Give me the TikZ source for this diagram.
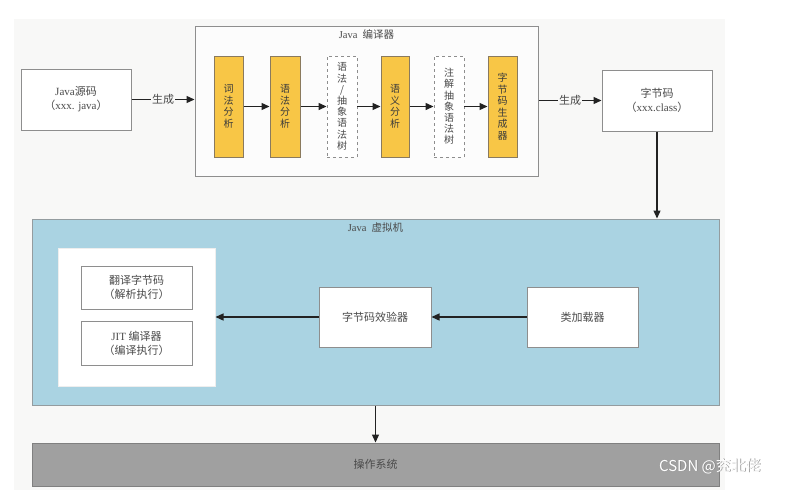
\documentclass[tikz,border=0pt]{standalone}
\usepackage{fontspec}
\setmainfont{Noto Sans CJK SC}
\newfontfamily\latf{Liberation Serif}
\usetikzlibrary{arrows.meta}
\definecolor{bgc}{HTML}{F8F8F7}
\definecolor{bordc}{HTML}{8E8E8E}
\definecolor{txtc}{HTML}{4A4A4A}
\definecolor{yel}{HTML}{F8C646}
\definecolor{yelb}{HTML}{8A7A5E}
\definecolor{jvmc}{HTML}{AAD3E2}
\definecolor{osc}{HTML}{A0A0A0}
\definecolor{arrc}{HTML}{222222}
\tikzset{
  box/.style={draw=bordc, line width=1pt, fill=white, inner sep=0pt, text=txtc, align=center, font=\fontsize{11}{14}\selectfont},
  ybox/.style={draw=yelb, line width=1pt, fill=yel, inner sep=0pt, minimum height=101pt, text=txtc!80!black, align=center, font=\fontsize{10}{11.5}\selectfont},
  dbox/.style={draw=bordc, dashed, line width=0.9pt, fill=white, inner sep=0pt, minimum height=101pt, text=txtc, align=center, font=\fontsize{10}{11.2}\selectfont},
  arr/.style={draw=arrc, line width=1.3pt, -{Triangle[length=8pt,width=7pt]}},
  lbl/.style={fill=bgc, inner sep=1pt, text=txtc, font=\fontsize{11}{12}\selectfont},
  ttl/.style={text=txtc, inner sep=0pt, font=\fontsize{10.5}{12}\selectfont}
}
\begin{document}
\begin{tikzpicture}[x=1pt, y=-1pt]
\useasboundingbox (0,0) rectangle (792,490);
\fill[white] (0,0) rectangle (792,490);
\fill[bgc] (14,19) rectangle (725,490);

% compiler
\node[box, fill=white!60!bgc, minimum width=343pt, minimum height=150pt] (comp) at (366.5,101) {};
\node[ttl] (compt) at (366.5,34) {{\latf Java}\enspace 编译器};
\node[box, minimum width=110pt, minimum height=61pt] (src) at (76,99.5) {{\latf Java}源码\\（{\latf xxx. java}）};
\node[ybox, minimum width=29pt] (y1) at (228.5,106.5) {词\\法\\分\\析};
\node[ybox, minimum width=30pt] (y2) at (285,106.5) {语\\法\\分\\析};
\node[dbox, minimum width=30pt] (d1) at (342,106.5) {语\\法\\/\\抽\\象\\语\\法\\树};
\node[ybox, minimum width=28pt] (y3) at (395,106.5) {语\\义\\分\\析};
\node[dbox, minimum width=30pt] (d2) at (449,106.5) {注\\解\\抽\\象\\语\\法\\树};
\node[ybox, minimum width=29pt] (y4) at (502.5,106.5) {字\\节\\码\\生\\成\\器};
\node[box, minimum width=110pt, minimum height=61pt] (bc) at (657,100.5) {字节码\\（{\latf xxx.class}）};

% JVM
\node[box, fill=jvmc, draw=bordc!80!jvmc, minimum width=687pt, minimum height=186pt] (jvm) at (375.5,312) {};
\node[ttl] (jvmt) at (375.5,228) {{\latf Java}\enspace 虚拟机};
\node[box, draw=white!85!bordc, minimum width=157pt, minimum height=138pt] (exec) at (136.5,317) {};
\node[box, minimum width=111pt, minimum height=43pt] (interp) at (136.5,287.5) {翻译字节码\\（解析执行）};
\node[box, minimum width=111pt, minimum height=44pt] (jit) at (136.5,343) {{\latf JIT} 编译器\\（编译执行）};
\node[box, minimum width=112pt, minimum height=60pt] (verif) at (375,317) {字节码效验器};
\node[box, minimum width=111pt, minimum height=60pt] (loader) at (582.5,317) {类加载器};

% OS
\node[box, fill=osc, draw=osc!80!black, minimum width=687pt, minimum height=43pt] (os) at (375.5,464.5) {操作系统};

% arrows
\draw[arr] (src.east) -- node[lbl] {生成} (src.east -| comp.west);
\draw[arr] (comp.east |- bc.west) -- node[lbl] {生成} (bc.west);
\draw[arr] (y1.east) -- (y2.west);
\draw[arr] (y2.east) -- (d1.west);
\draw[arr] (d1.east) -- (y3.west);
\draw[arr] (y3.east) -- (d2.west);
\draw[arr] (d2.east) -- (y4.west);
\draw[arr] (bc.south) -- (bc.south |- jvm.north);
\draw[arr] (loader.west) -- (verif.east);
\draw[arr] (verif.west) -- (exec.east);
\draw[arr] (jvm.south) -- (os.north);

% watermark
\node[text=black!45, font=\fontsize{15}{15}\selectfont, inner sep=0pt] (wms) at (710.8,466.8) {CSDN @兖北佬};
\node[text=white, font=\fontsize{15}{15}\selectfont, inner sep=0pt] (wm) at (710,466) {CSDN @兖北佬};
\end{tikzpicture}
\end{document}
